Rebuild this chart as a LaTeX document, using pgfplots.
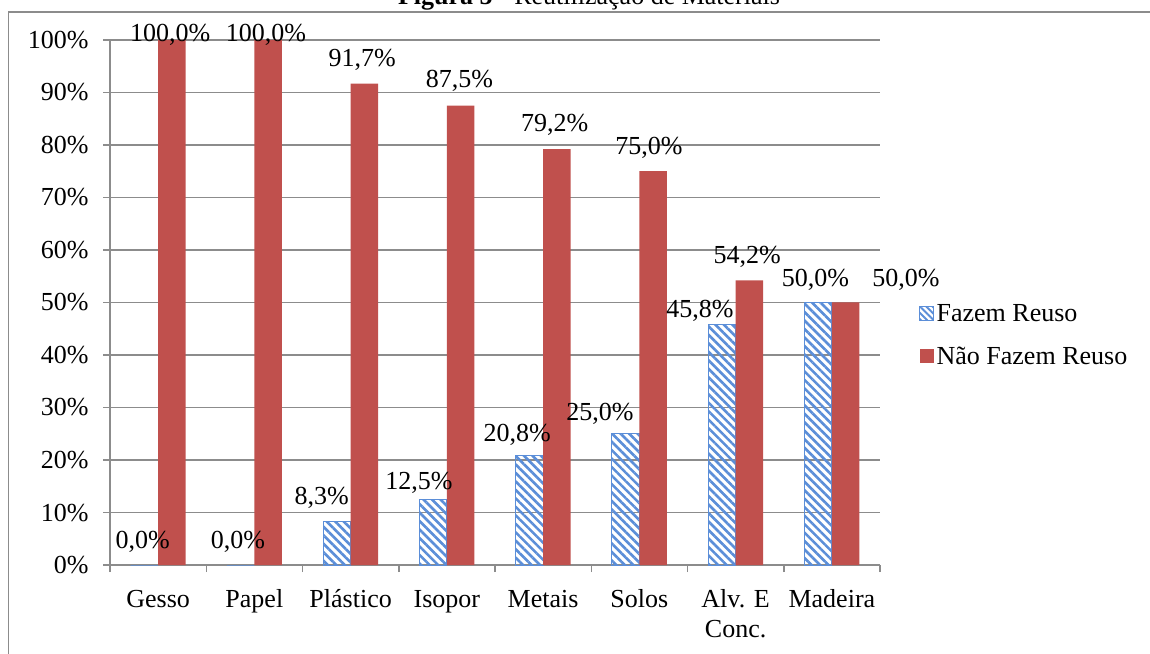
\documentclass[border=0pt]{standalone}
\usepackage{fontspec}
\setmainfont{Liberation Serif}
\usepackage{pgfplots}
\usepackage{pgfplotstable}
\pgfplotsset{compat=1.18}
\usetikzlibrary{patterns.meta}

\definecolor{reuso}{HTML}{5B8ED8}
\definecolor{naoreuso}{HTML}{C0504D}
\definecolor{eixo}{HTML}{8C8C8C}

% share of respondents per material (percent)
\pgfplotstableread{
x reuso nao
0 0.0 100.0
1 0.0 100.0
2 8.3 91.7
3 12.5 87.5
4 20.8 79.2
5 25.0 75.0
6 45.8 54.2
7 50.0 50.0
}\dados

% data label positions (baseline) and texts
\pgfplotstableread{
lx ly t
-0.16 3.2 0,0\%
0.83 3.2 0,0\%
1.70 11.6 8,3\%
2.71 14.3 12,5\%
3.73 23.6 20,8\%
4.59 27.6 25,0\%
5.63 47.2 45,8\%
6.83 53.0 50,0\%
0.125 99.8 100,0\%
1.12 99.8 100,0\%
2.12 94.9 91,7\%
3.13 90.9 87,5\%
4.12 82.5 79,2\%
5.10 78.1 75,0\%
6.12 57.5 54,2\%
7.77 53.0 50,0\%
}\rotulos

\newcommand{\fs}{\fontsize{26}{30}\selectfont}

\pgfplotsset{
  legenda reuso/.style={legend image code/.code={%
    \draw[reuso, line width=0.8pt,
      pattern={Lines[angle=-45,distance=4.5pt,line width=2pt]}, pattern color=reuso]
      (0pt,-7pt) rectangle (14pt,7pt);}},
  legenda nao/.style={legend image code/.code={%
    \fill[naoreuso] (0pt,-7pt) rectangle (14pt,7pt);}},
}

\begin{document}
\begin{tikzpicture}
\useasboundingbox (0pt,0pt) rectangle (1150pt,653pt);
\draw[eixo, line width=1.5pt] (8.5pt,-5pt) -- (8.5pt,641pt) -- (1160pt,641pt);
\node[anchor=base, font=\fontsize{26}{30}\selectfont] at (589pt,648pt)
  {\textbf{Figura 5} - Reutilização de Materiais};
\begin{axis}[
  at={(110pt,88pt)}, anchor=south west,
  scale only axis, width=770pt, height=525pt,
  xmin=-0.5, xmax=7.5, ymin=0, ymax=100,
  clip=false,
  axis lines=left,
  axis line style={-, eixo, line width=1.5pt},
  ymajorgrids,
  grid style={eixo, line width=1.5pt},
  ytick={0,10,...,100},
  yticklabels={0\%,10\%,20\%,30\%,40\%,50\%,60\%,70\%,80\%,90\%,100\%},
  xtick={0,...,7},
  xticklabels={Gesso,Papel,Plástico,Isopor,Metais,Solos,{Alv. E\\Conc.},Madeira},
  typeset ticklabels with strut,
  minor xtick={-0.5,0.5,...,7.5},
  major x tick style={draw=none},
  minor x tick style={eixo, line width=1.5pt},
  y tick style={eixo, line width=1.5pt},
  tick align=outside,
  major tick length=7pt,
  minor tick length=7pt,
  tick label style={font=\fs},
  xticklabel style={align=center, anchor=north, yshift=-11pt},
  yticklabel style={anchor=east, xshift=-11pt, yshift=-2.5pt},
  legend style={at={(1.046,0.438)}, anchor=west, draw=none, fill=none,
    font=\fs, row sep=20pt,
    /tikz/every even column/.append style={column sep=3pt}},
  legend cell align=left,
]
\addplot[ybar, bar width=27.5pt, bar shift=-13.75pt,
  draw=reuso, line width=1pt,
  pattern={Lines[angle=-45,distance=6pt,line width=2.6pt]}, pattern color=reuso,
  legenda reuso]
  table[x=x, y=reuso] {\dados};
\addlegendentry{Fazem Reuso}
\addplot[ybar, bar width=27.5pt, bar shift=13.75pt,
  draw=none, fill=naoreuso, legenda nao]
  table[x=x, y=nao] {\dados};
\addlegendentry{Não Fazem Reuso}
\addplot[draw=none, mark=none, forget plot,
  nodes near coords, point meta=explicit symbolic,
  nodes near coords style={anchor=base, font=\fs, inner sep=0pt}]
  table[x=lx, y=ly, meta=t] {\rotulos};
\end{axis}
\end{tikzpicture}
\end{document}
